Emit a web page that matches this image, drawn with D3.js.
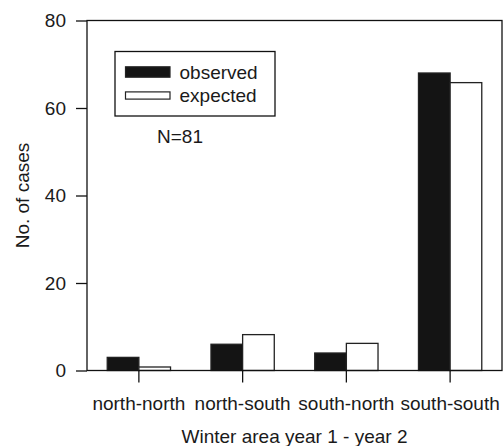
<!DOCTYPE html>
<html>
<head>
<meta charset="utf-8">
<script src="https://cdn.jsdelivr.net/npm/d3@7"></script>
<style>
  body { margin: 0; background: #fff; }
  text { font-family: "Liberation Sans", Arial, sans-serif; fill: #1a1a1a; }
</style>
</head>
<body>
<svg id="chart" width="503" height="446"></svg>
<script>
// categories and the two series
var categories = ["north-north", "north-south", "south-north", "south-south"];
var observed = [3, 6, 4, 68];
var expected = [0.8, 8.2, 6.2, 65.8];
var seriesNames = ["observed", "expected"];
var yTicks = [0, 20, 40, 60, 80];

var svg = d3.select("#chart");
// plot edges (note: "top" is taken by window.top, so use plot* names)
var plotLeft = 87, plotRight = 502, plotTop = 20.5, plotBottom = 370.5;
var fontSize = 19;

var x = d3.scaleBand().domain(categories).range([plotLeft, plotRight]).padding(0);
// bars fill ~60% of each band, observed then expected side by side
var inner = d3.scaleBand().domain(seriesNames)
  .range([0, x.bandwidth() * 0.61]).padding(0);
var groupOffset = (x.bandwidth() - x.bandwidth() * 0.61) / 2;
var y = d3.scaleLinear().domain([0, 80]).range([plotBottom, plotTop]);

var rows = categories.map(function(c, i) {
  return { cat: c, observed: observed[i], expected: expected[i] };
});

// bars
var groups = svg.append("g").selectAll("g")
    .data(rows)
  .enter().append("g")
    .attr("transform", function(d) { return "translate(" + (x(d.cat) + groupOffset) + ",0)"; });

groups.selectAll("rect")
    .data(function(d) { return seriesNames.map(function(k) { return { key: k, value: d[k] }; }); })
  .enter().append("rect")
    .attr("x", function(d) { return inner(d.key); })
    .attr("y", function(d) { return y(d.value); })
    .attr("width", inner.bandwidth())
    .attr("height", function(d) { return y(0) - y(d.value); })
    .attr("fill", function(d) { return d.key == "observed" ? "#141414" : "#fff"; })
    .attr("stroke", "#222")
    .attr("stroke-width", 1.3);

// frame around the plot
svg.append("rect")
  .attr("x", plotLeft).attr("y", plotTop)
  .attr("width", plotRight - plotLeft).attr("height", plotBottom - plotTop)
  .attr("fill", "none").attr("stroke", "#111").attr("stroke-width", 1.3);

// y axis
var yAxis = svg.append("g")
  .attr("transform", "translate(" + plotLeft + ",0)")
  .call(d3.axisLeft(y).tickValues(yTicks).tickSize(11).tickPadding(10));
yAxis.select(".domain").remove();
yAxis.selectAll("line").attr("stroke", "#111").attr("stroke-width", 1.3);
yAxis.selectAll("text").attr("font-size", fontSize)
  .attr("font-family", "Liberation Sans, Arial, sans-serif").attr("fill", "#1a1a1a");

// x axis
var xAxis = svg.append("g")
  .attr("transform", "translate(0," + plotBottom + ")")
  .call(d3.axisBottom(x).tickSize(12).tickPadding(14));
xAxis.select(".domain").remove();
xAxis.selectAll("line").attr("stroke", "#111").attr("stroke-width", 1.3);
xAxis.selectAll("text").attr("font-size", fontSize)
  .attr("font-family", "Liberation Sans, Arial, sans-serif").attr("fill", "#1a1a1a");

// axis titles
svg.append("text")
  .attr("x", (plotLeft + plotRight) / 2).attr("y", 443)
  .attr("text-anchor", "middle").attr("font-size", fontSize)
  .text("Winter area year 1 - year 2");

svg.append("text")
  .attr("transform", "translate(28.5," + ((plotTop + plotBottom) / 2) + ") rotate(-90)")
  .attr("text-anchor", "middle").attr("font-size", fontSize)
  .text("No. of cases");

// legend
var legend = svg.append("g");
legend.append("rect")
  .attr("x", 115).attr("y", 51.5).attr("width", 160).attr("height", 64.5)
  .attr("fill", "#fff").attr("stroke", "#111").attr("stroke-width", 1.3);

var legendRows = legend.selectAll("g.item")
    .data(seriesNames)
  .enter().append("g")
    .attr("class", "item")
    .attr("transform", function(d, i) { return "translate(125.5," + (i == 0 ? 72 : 95.5) + ")"; });

legendRows.append("rect")
  .attr("x", 0)
  .attr("y", function(d, i) { return i == 0 ? -5.2 : -3.6; })
  .attr("width", 44.5)
  .attr("height", function(d, i) { return i == 0 ? 10.4 : 7.2; })
  .attr("fill", function(d, i) { return i == 0 ? "#141414" : "#fff"; })
  .attr("stroke", "#222").attr("stroke-width", 1.2);

legendRows.append("text")
  .attr("x", 54).attr("y", 6.5)
  .attr("font-size", fontSize)
  .text(function(d) { return d; });

svg.append("text")
  .attr("x", 157).attr("y", 143)
  .attr("font-size", fontSize)
  .text("N=81");
</script>
</body>
</html>
